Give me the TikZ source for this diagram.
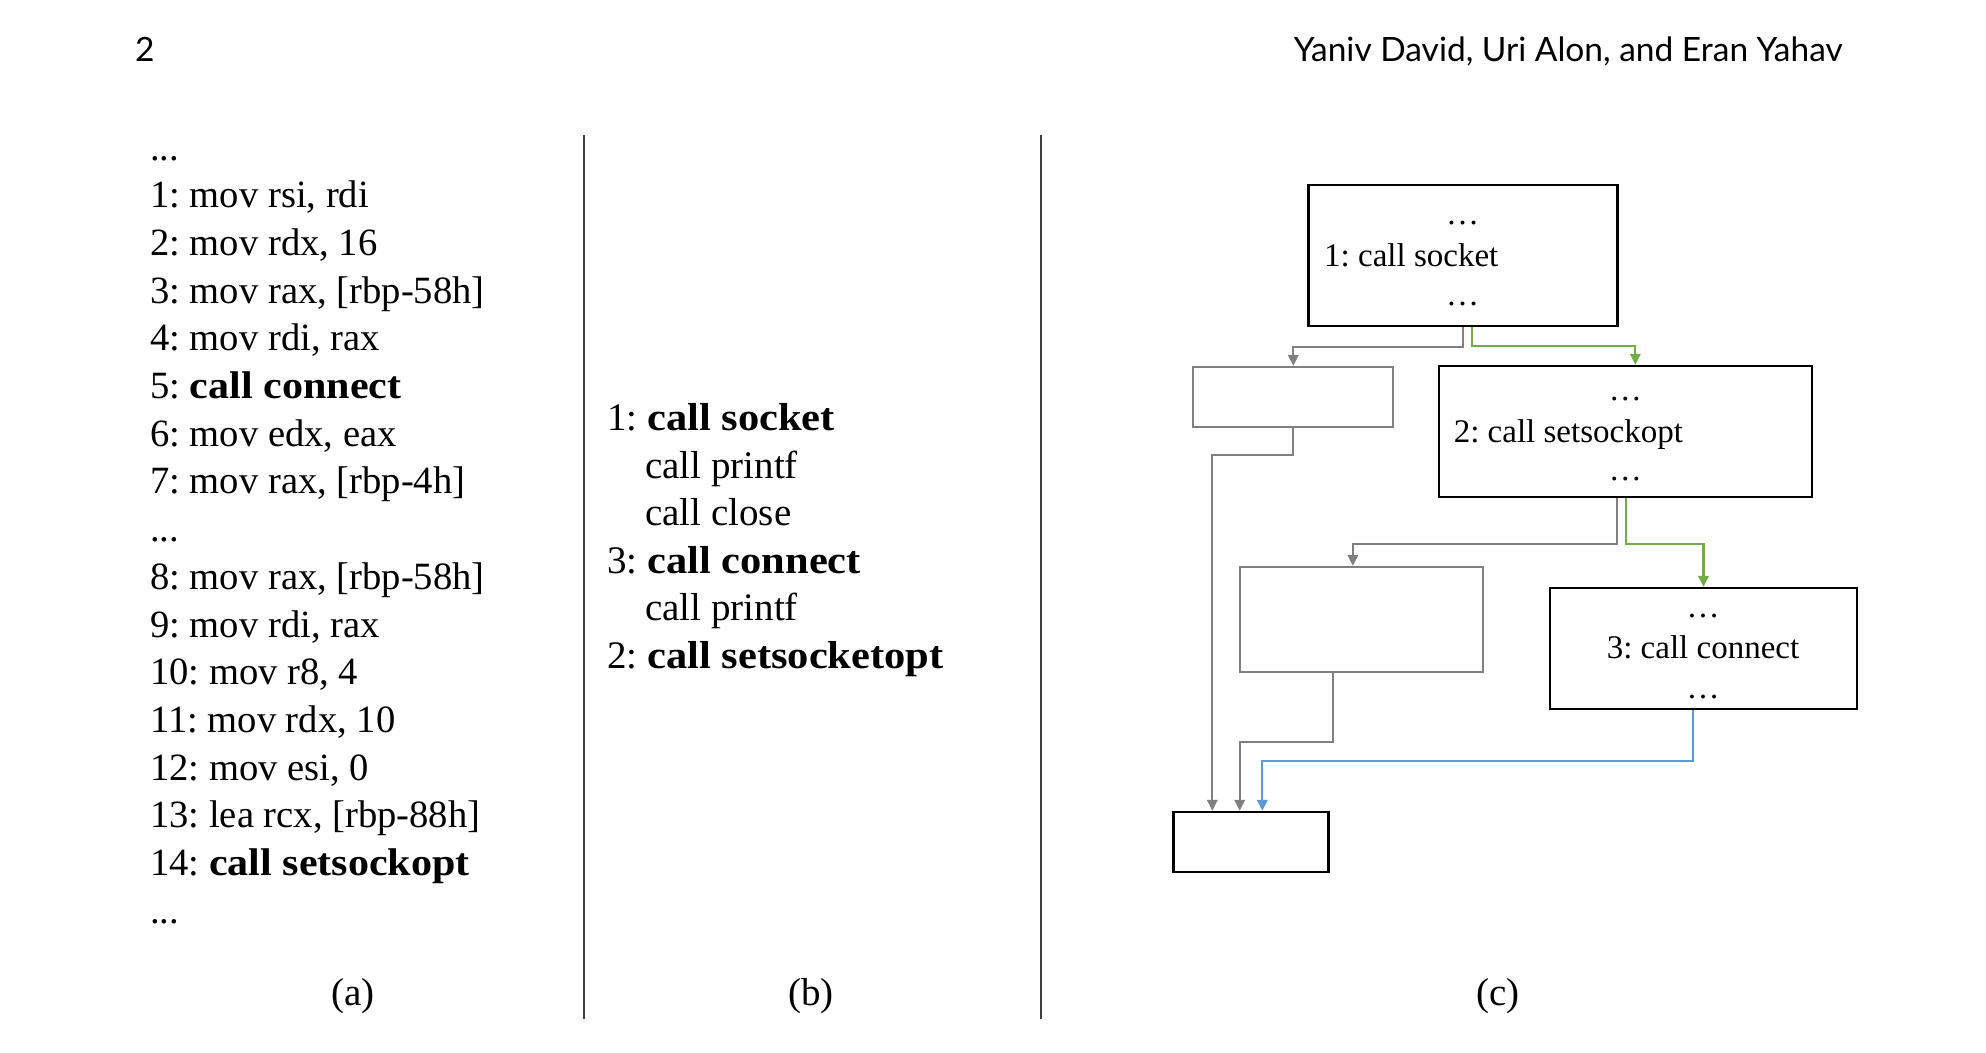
\documentclass[tikz,border=0pt]{standalone}
\usepackage{fontspec}
\setmainfont{Liberation Serif}[BoldFeatures={FakeStretch=1.09}]
\newfontfamily\hdrfont{Lato}
\newfontfamily\boxfont{Liberation Serif}
\usetikzlibrary{arrows.meta}
\definecolor{cgray}{RGB}{128,128,128}
\definecolor{cgreen}{RGB}{112,173,71}
\definecolor{cblue}{RGB}{91,155,213}
\frenchspacing
\begin{document}
\begin{tikzpicture}[x=1pt,y=-1pt,
  code/.style={anchor=base west, inner sep=0pt, font=\fontsize{38.6}{46}\selectfont},
  mid/.style={anchor=base west, inner sep=0pt, font=\fontsize{39}{46}\selectfont},
  capt/.style={anchor=base, inner sep=0pt, font=\fontsize{39}{46}\selectfont},
  hdr/.style={inner sep=0pt, font=\hdrfont\fontsize{33.5}{40}\selectfont},
  btxt/.style={inner sep=0pt, font=\boxfont\fontsize{33}{40}\selectfont},
  bbox/.style={draw=black, line width=2.4pt, inner sep=0pt},
  gbox/.style={draw=cgray, line width=2.2pt, inner sep=0pt},
  conn/.style={line width=2.1pt, -{Triangle[length=11pt,width=10.5pt]}},
  divider/.style={draw=black!75, line width=1.6pt}]
\useasboundingbox (0,0) rectangle (1986,1052);
\fill[white] (0,0) rectangle (1986,1052);

% header
\node[hdr, anchor=base west] (pg) at (135,61) {2};
\node[hdr, anchor=base east] (auth) at (1843,61) {Yaniv David, Uri Alon, and Eran Yahav};

% dividers
\draw[divider] (584,135) -- (584,1019);
\draw[divider] (1041,135) -- (1041,1019);

% column (a)
\node[code] (a0) at (150,160.0) {...};
\node[code] (a1) at (150,207.7) {1: mov rsi, rdi};
\node[code] (a2) at (150,255.4) {2: mov rdx, 16};
\node[code] (a3) at (150,303.1) {3: mov rax, [rbp-58h]};
\node[code] (a4) at (150,350.8) {4: mov rdi, rax};
\node[code] (a5) at (150,398.5) {5: \textbf{call connect}};
\node[code] (a6) at (150,446.2) {6: mov edx, eax};
\node[code] (a7) at (150,493.9) {7: mov rax, [rbp-4h]};
\node[code] (a8) at (150,541.6) {...};
\node[code] (a9) at (150,589.3) {8: mov rax, [rbp-58h]};
\node[code] (a10) at (150,637.0) {9: mov rdi, rax};
\node[code] (a11) at (150,684.7) {10: mov r8, 4};
\node[code] (a12) at (150,732.4) {11: mov rdx, 10};
\node[code] (a13) at (150,780.1) {12: mov esi, 0};
\node[code] (a14) at (150,827.8) {13: lea rcx, [rbp-88h]};
\node[code] (a15) at (150,875.5) {14: \textbf{call setsockopt}};
\node[code] (a16) at (150,923.2) {...};

% column (b)
\node[mid] (m1) at (607,430) {1: \textbf{call socket}};
\node[mid] (m2) at (645,478) {call printf};
\node[mid] (m3) at (645,525) {call close};
\node[mid] (m4) at (607,573) {3: \textbf{call connect}};
\node[mid] (m5) at (645,620) {call printf};
\node[mid] (m6) at (607,668) {2: \textbf{call setsocketopt}};

% captions
\node[capt] (ca) at (353,1005) {(a)};
\node[capt] (cb) at (811,1005) {(b)};
\node[capt] (cc) at (1498,1005) {(c)};

% column (c): CFG
\node[bbox, minimum width=309pt, minimum height=141pt] (b1) at (1463,255.5) {};
\node[gbox, minimum width=200pt, minimum height=60pt] (g1) at (1293.3,397) {};
\node[bbox, minimum width=372.7pt, minimum height=131pt] (b2) at (1625.6,431.5) {};
\node[gbox, minimum width=243pt, minimum height=105pt] (g2) at (1361.2,619.5) {};
\node[bbox, minimum width=306.7pt, minimum height=121pt] (b3) at (1703.5,648.5) {};
\node[bbox, minimum width=154.8pt, minimum height=60pt] (f) at (1251,842) {};

\node[btxt, anchor=base] (b1d1) at (1462.5,224) {\dots};
\node[btxt, anchor=base west] (b1t) at (1324,266) {1: call socket};
\node[btxt, anchor=base] (b1d2) at (1462.5,305) {\dots};

\node[btxt, anchor=base] (b2d1) at (1625.4,400) {\dots};
\node[btxt, anchor=base west] (b2t) at (1453.6,442) {2: call setsockopt};
\node[btxt, anchor=base] (b2d2) at (1625.4,480) {\dots};

\node[btxt, anchor=base] (b3d1) at (1703,617) {\dots};
\node[btxt, anchor=base] (b3t) at (1703,658) {3: call connect};
\node[btxt, anchor=base] (b3d2) at (1703,698) {\dots};

% connectors
\draw[conn, cgray] (b1.south) -- ++(0,20) -| (g1.north);
\draw[conn, cgreen] ([xshift=9pt]b1.south) -- ++(0,19) -| ([xshift=9.7pt]b2.north);
\draw[conn, cgray] ([xshift=-8.5pt]b2.south) -- ++(0,46) -| ([xshift=-8.3pt]g2.north);
\draw[conn, cgreen] (b2.south) -- ++(0,46) -| (b3.north);
\draw[conn, cgray] (g1.south) -- ++(0,27) -| ([xshift=-38.7pt]f.north);
\draw[conn, cgray] ([xshift=-28pt]g2.south) -- ++(0,69) -| ([xshift=-11.3pt]f.north);
\draw[conn, cblue] ([xshift=-10.8pt]b3.south) -- ++(0,51) -| ([xshift=11.3pt]f.north);
\end{tikzpicture}
\end{document}
